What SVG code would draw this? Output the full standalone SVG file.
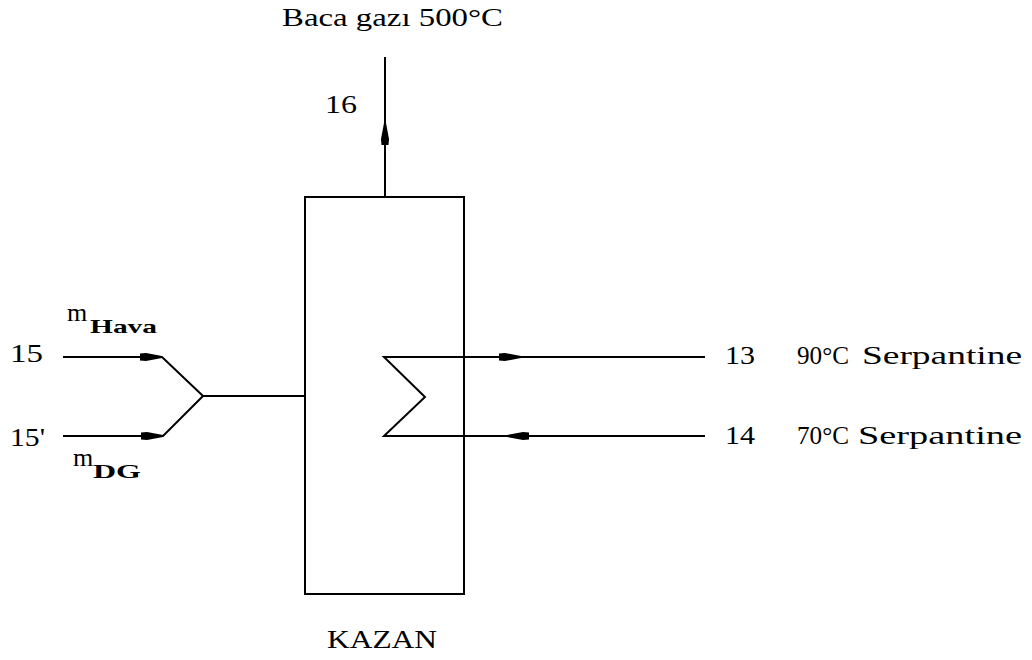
<svg xmlns="http://www.w3.org/2000/svg" width="1032" height="660" viewBox="0 0 1032 660">
<style>
.ln{fill:none;stroke:#000;stroke-width:2}
text{font-family:'Liberation Serif','Times New Roman','DejaVu Serif',serif;fill:#000}
.t{font-size:26px}
.m{font-size:26px}
.sub{font-size:19px;font-weight:bold}
</style>
<defs>
<marker id="ah" markerUnits="userSpaceOnUse" markerWidth="24" markerHeight="10" refX="22" refY="5" orient="auto">
<path d="M0,1.5 L6,1 L22,4 L22,6 L6,9 L0,8.5 z" fill="#000"/>
</marker>
</defs>
<rect width="1032" height="660" fill="#fff"/>
<g id="kazan">
<rect class="ln" x="305" y="197" width="159" height="397"/>
<text class="t" x="327" y="648" textLength="110" lengthAdjust="spacingAndGlyphs">KAZAN</text>
</g>
<g id="coil">
<polyline class="ln" points="705,357 384,357 425,397 384,436 705,436"/>
</g>
<g id="connectors">
<line class="ln" x1="385" y1="197" x2="385" y2="57"/>
<path class="ln" d="M385,160 L385,123" marker-end="url(#ah)"/>
<polyline class="ln" points="63,357 162,357 203,396 305,396"/>
<polyline class="ln" points="63,436 163,436 203,396"/>
<path class="ln" d="M130,357 L162,357" marker-end="url(#ah)"/>
<path class="ln" d="M130,436 L163,436" marker-end="url(#ah)"/>
<path class="ln" d="M480,357 L521,357" marker-end="url(#ah)"/>
<path class="ln" d="M560,436 L507,436" marker-end="url(#ah)"/>
</g>
<g id="labels">
<text class="t" x="282" y="26" textLength="221" lengthAdjust="spacingAndGlyphs">Baca gazı 500°C</text>
<text class="t" x="325" y="113" textLength="32" lengthAdjust="spacingAndGlyphs">16</text>
<text class="t" x="10" y="362" textLength="33" lengthAdjust="spacingAndGlyphs">15</text>
<text class="t" x="10" y="446" textLength="35" lengthAdjust="spacingAndGlyphs">15'</text>
<text class="m" x="67" y="321">m</text>
<text class="sub" x="90" y="333" textLength="67" lengthAdjust="spacingAndGlyphs">Hava</text>
<text class="m" x="73" y="466">m</text>
<text class="sub" x="93" y="478" textLength="48" lengthAdjust="spacingAndGlyphs">DG</text>
<text class="t" x="725" y="364" textLength="30" lengthAdjust="spacingAndGlyphs">13</text>
<text class="t" x="725" y="444" textLength="30" lengthAdjust="spacingAndGlyphs">14</text>
<text class="t" x="797" y="364" textLength="52" lengthAdjust="spacingAndGlyphs">90°C</text>
<text class="t" x="862" y="364" textLength="160" lengthAdjust="spacingAndGlyphs">Serpantine</text>
<text class="t" x="797" y="444" textLength="52" lengthAdjust="spacingAndGlyphs">70°C</text>
<text class="t" x="858" y="444" textLength="164" lengthAdjust="spacingAndGlyphs">Serpantine</text>
</g>
</svg>
